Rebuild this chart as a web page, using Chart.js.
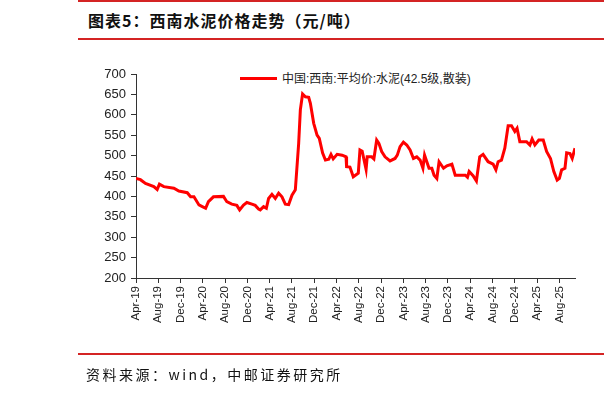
<!DOCTYPE html>
<html>
<head>
<meta charset="utf-8">
<script src="https://cdn.jsdelivr.net/npm/chart.js@4"></script>
<style>
  body { margin: 0; background: #fff; }
  #wrap { position: relative; width: 604px; height: 393px; overflow: hidden; background: #fff; }
  .rule { position: absolute; left: 78px; right: 0; height: 2px; background: #d42424; }
  #title { position: absolute; left: 88px; top: 8px; font: bold 16px "Noto Sans CJK SC", sans-serif; color: #111; letter-spacing: 1px; white-space: nowrap; }
  #source { position: absolute; left: 86px; top: 364px; font: 14px "Noto Sans CJK SC", sans-serif; color: #111; letter-spacing: 2.5px; white-space: nowrap; }
  #legend { position: absolute; left: 240px; top: 69px; font: 12px "Liberation Sans", "Noto Sans CJK SC", sans-serif; color: #222; white-space: nowrap; }
  #legend span.line { display: inline-block; width: 37px; height: 3px; background: #ff0000; vertical-align: middle; margin-right: 5px; position: relative; top: -1px; }
  canvas { position: absolute; left: 0; top: 0; }
</style>
</head>
<body>
<div id="wrap">
  <div class="rule" style="top:0px"></div>
  <div id="title">图表5：西南水泥价格走势（元/吨）</div>
  <div class="rule" style="top:38px"></div>
  <div id="legend"><span class="line"></span>中国:西南:平均价:水泥(42.5级,散装)</div>
  <canvas id="chart" width="604" height="393"></canvas>
  <div class="rule" style="top:353px"></div>
  <div id="source">资料来源：wind，中邮证券研究所</div>
</div>
<script>
// месяцы от апреля 2019 (0 = Apr-19)
const months = [
  0.0, 0.8, 1.7, 3.2, 3.8, 4.2, 5.0, 6.8, 7.7, 9.2, 9.8, 10.4, 11.3, 11.9, 12.5, 13.0,
  13.9, 15.7, 16.3, 17.2, 18.1, 18.6, 19.3, 19.9, 20.8, 21.4, 22.0, 22.3, 22.9, 23.4,
  23.8, 24.4, 25.0, 25.6, 26.2, 26.8, 27.4, 28.0, 28.6, 29.2, 29.5, 29.9, 30.4, 31.0,
  31.3, 31.9, 32.5, 32.9, 33.5, 34.0, 34.6, 35.0, 35.4, 36.1, 37.0, 37.7, 37.8, 38.4,
  39.0, 39.9, 40.2, 40.6, 41.3, 41.5, 42.3, 42.7, 43.2, 43.6, 44.1, 44.7, 45.6, 46.5,
  46.9, 47.4, 48.0, 48.6, 49.2, 49.8, 50.4, 51.0, 51.5, 51.8, 52.2, 52.6, 53.1, 53.5,
  54.0, 54.4, 55.2, 55.8, 56.7, 57.3, 59.1, 59.5, 59.8, 60.5, 61.1, 61.7, 62.3, 63.2,
  64.1, 64.6, 65.0, 65.6, 66.2, 66.8, 67.4, 68.0, 68.4, 68.9, 70.1, 70.7, 71.1, 71.6,
  72.3, 73.1, 73.7, 74.4, 75.0, 75.6, 76.0, 76.4, 77.0, 77.3, 77.9, 78.3, 78.8
];
const prices = [
  444, 441, 432, 424, 417, 430, 424, 420, 413, 409, 399, 399, 379, 375, 371, 387,
  399, 400, 387, 381, 378, 367, 379, 385, 381, 378, 369, 367, 375, 371,
  395, 405, 395, 408, 399, 381, 380, 403, 416, 530, 612, 651, 644, 643,
  628, 579, 550, 542, 506, 489, 491, 503, 492, 503, 501, 497, 473, 472,
  448, 457, 514, 511, 466, 497, 497, 492, 538, 530, 510, 497, 487, 493,
  501, 522, 533, 526, 514, 493, 497, 489, 469, 501, 485, 469, 469, 452,
  444, 485, 469, 475, 479, 452, 452, 447, 461, 451, 438, 497, 503, 485,
  479, 465, 485, 489, 518, 573, 573, 559, 567, 534, 534, 526, 541, 526,
  538, 538, 510, 493, 461, 440, 444, 465, 469, 507, 505, 493, 518
];
const tickLabels = [
  'Apr-19', 'Aug-19', 'Dec-19', 'Apr-20', 'Aug-20', 'Dec-20', 'Apr-21', 'Aug-21',
  'Dec-21', 'Apr-22', 'Aug-22', 'Dec-22', 'Apr-23', 'Aug-23', 'Dec-23', 'Apr-24',
  'Aug-24', 'Dec-24', 'Apr-25', 'Aug-25'
];
const tickMonths = tickLabels.map((_, i) => i * 4);

new Chart(document.getElementById('chart'), {
  type: 'line',
  data: {
    datasets: [{
      label: '中国:西南:平均价:水泥(42.5级,散装)',
      data: months.map((m, i) => ({ x: m, y: prices[i] })),
      borderColor: '#ff0000',
      borderWidth: 3,
      pointRadius: 0,
      tension: 0
    }]
  },
  options: {
    responsive: false,
    animation: false,
    devicePixelRatio: 1,
    layout: { padding: { left: 0, top: 74, right: 29, bottom: 55 } },
    plugins: { legend: { display: false }, tooltip: { enabled: false } },
    scales: {
      x: {
        type: 'linear',
        min: 0,
        max: 78.8,
        afterBuildTicks: scale => { scale.ticks = tickMonths.map(v => ({ value: v })); },
        afterFit: scale => { scale.height = 60; },
        ticks: {
          autoSkip: false,
          minRotation: 90,
          maxRotation: 90,
          padding: 3,
          color: '#222',
          font: { family: '"Liberation Sans Narrow", "Liberation Sans"', size: 11.5 },
          callback: value => tickLabels[tickMonths.indexOf(value)]
        },
        grid: { drawOnChartArea: false, tickLength: 5, color: '#333' },
        border: { color: '#333', width: 1 }
      },
      y: {
        min: 200,
        max: 700,
        afterFit: scale => { scale.width = 136; },
        ticks: {
          stepSize: 50,
          padding: 5,
          color: '#222',
          font: { family: 'Liberation Sans', size: 13 }
        },
        grid: { drawOnChartArea: false, tickLength: 5, color: '#333' },
        border: { color: '#333', width: 1 }
      }
    }
  }
});
</script>
</body>
</html>
